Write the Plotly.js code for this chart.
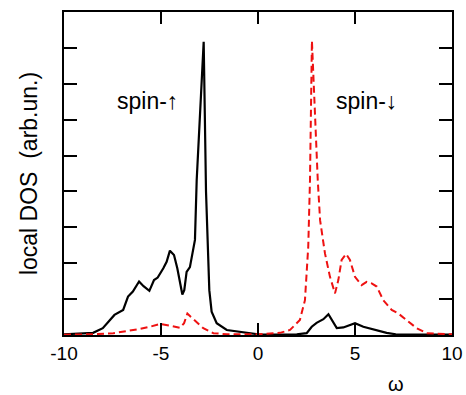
<!DOCTYPE html>
<html>
<head>
<meta charset="utf-8">
<script src="https://cdn.plot.ly/plotly-3.0.1.min.js"></script>
<style>html,body{margin:0;padding:0;background:#fff;}#chart{width:466px;height:395px;}#aux{position:absolute;left:70px;top:130px;font:9px monospace;width:10px;height:10px;color:#fff;}</style>
</head>
<body>
<div id="chart"></div>
<div id="aux"></div>
<script>
// spin-up local DOS (solid black)
const upX = [-10, -8.5, -8.0, -7.4, -6.95, -6.7, -6.45, -6.13, -5.9, -5.6, -5.36, -5.17, -4.88, -4.71, -4.54, -4.33, -4.16, -4.02, -3.90, -3.80, -3.68, -3.51, -3.33, -3.25, -3.16, -2.80, -2.68, -2.62, -2.51, -2.39, -2.13, -1.61, -0.58, 0, 1.0, 2.0, 2.51, 2.77, 3.02, 3.37, 3.63, 3.80, 4.06, 4.40, 5.0, 5.43, 5.94, 6.63, 7.1, 8.0, 10];
const upY = [0.02, 0.06, 0.19, 0.56, 0.70, 1.07, 1.21, 1.49, 1.36, 1.23, 1.53, 1.60, 1.86, 2.04, 2.35, 2.23, 1.86, 1.49, 1.13, 1.25, 1.76, 1.89, 2.37, 2.65, 4.32, 8.17, 4.0, 2.9, 1.25, 0.65, 0.33, 0.14, 0.05, 0.02, 0.01, 0.02, 0.05, 0.23, 0.34, 0.44, 0.58, 0.42, 0.19, 0.21, 0.33, 0.23, 0.16, 0.06, 0.02, 0.01, 0.01];
// spin-down local DOS (dashed red)
const dnX = [-10, -8.5, -7.46, -6.77, -6.08, -5.57, -5.05, -4.54, -4.02, -3.81, -3.64, -3.47, -3.16, -2.82, -2.30, -1.6, 0, 1.13, 1.65, 2.16, 2.42, 2.59, 2.68, 2.78, 3.08, 3.20, 3.45, 3.71, 3.97, 4.14, 4.31, 4.54, 4.74, 5.0, 5.34, 5.60, 5.86, 6.12, 6.46, 6.89, 7.23, 7.66, 8.18, 8.69, 10];
const dnY = [0.01, 0.02, 0.05, 0.10, 0.17, 0.23, 0.31, 0.26, 0.20, 0.33, 0.60, 0.51, 0.37, 0.19, 0.05, 0.02, 0.02, 0.06, 0.14, 0.42, 0.97, 2.46, 4.32, 8.2, 4.32, 3.2, 2.28, 1.62, 1.16, 1.53, 2.09, 2.26, 2.09, 1.62, 1.39, 1.48, 1.44, 1.35, 0.97, 0.70, 0.60, 0.42, 0.19, 0.05, 0.02];
const xTickVals = [-10, -5, 0, 5, 10];
const xTickText = ['-10', '-5', '0', '5', '10'];
const upLabel = 'spin-↑';
const dnLabel = 'spin-↓';
const yTitle = 'local DOS  (arb.un.)';
const xTitle = 'ω';

const fam = 'Liberation Sans, Arial, sans-serif';

const traces = [
  {x: upX, y: upY, type: 'scatter', mode: 'lines', line: {color: '#000', width: 2.2}},
  {x: dnX, y: dnY, type: 'scatter', mode: 'lines', line: {color: '#ee1111', width: 2, dash: '7px,4px'}}
];

const layout = {
  width: 466, height: 395,
  margin: {l: 64, r: 14, t: 12, b: 60},
  showlegend: false,
  xaxis: {
    range: [-10, 10], tickmode: 'array', tickvals: xTickVals, ticktext: xTickText,
    ticks: 'inside', ticklen: 12, tickwidth: 2, tickcolor: '#000',
    showline: true, linewidth: 2, linecolor: '#000', mirror: 'allticks',
    showgrid: false, zeroline: false,
    tickfont: {family: fam, size: 19, color: '#000'}
  },
  yaxis: {
    range: [0, 9], dtick: 1, showticklabels: false,
    ticks: 'inside', ticklen: 13, tickwidth: 2, tickcolor: '#000',
    showline: true, linewidth: 2, linecolor: '#000', mirror: 'allticks',
    showgrid: false, zeroline: false,
    title: {text: yTitle, font: {family: fam, size: 23, color: '#000'}, standoff: 18}
  },
  annotations: [
    {text: upLabel, x: -5.7, y: 6.52, xref: 'x', yref: 'y', xanchor: 'center', yanchor: 'middle', showarrow: false, font: {family: fam, size: 23, color: '#000'}},
    {text: dnLabel, x: 5.57, y: 6.52, xref: 'x', yref: 'y', xanchor: 'center', yanchor: 'middle', showarrow: false, font: {family: fam, size: 23, color: '#000'}},
    {text: xTitle, x: (396 - 64) / 388, y: (335 - 384) / 323, xref: 'paper', yref: 'paper', xanchor: 'center', yanchor: 'middle', showarrow: false, font: {family: fam, size: 20, color: '#000'}}
  ]
};

Plotly.newPlot('chart', traces, layout, {displayModeBar: false}).then(function(){
  // force a repaint after the plot is drawn so every tick path is painted
  const n = document.querySelectorAll('.xtick').length;
  document.getElementById('aux').textContent = n > 0 ? ' ' : '';
  void document.body.offsetHeight;
});
</script>
</body>
</html>
